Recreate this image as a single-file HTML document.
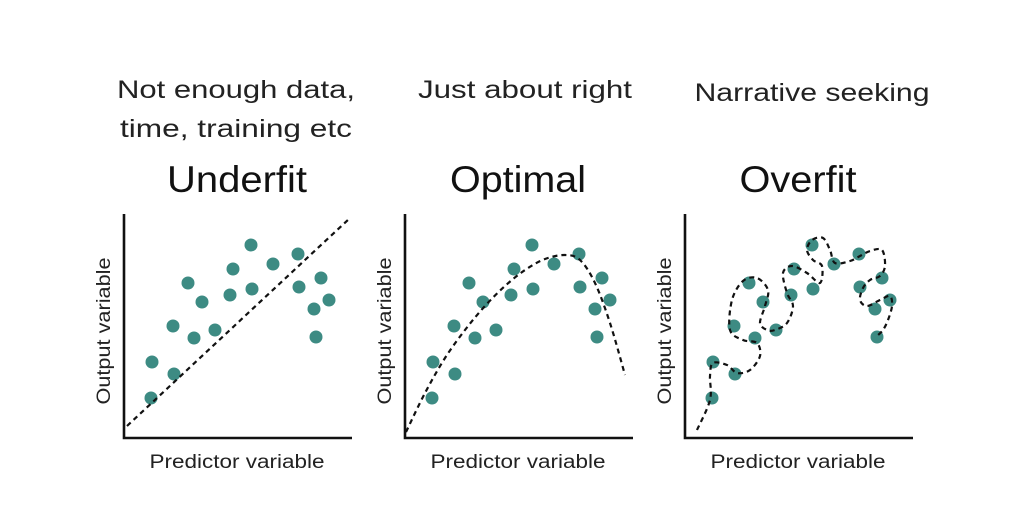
<!DOCTYPE html>
<html><head><meta charset="utf-8"><style>
body{margin:0;background:#fff;}
svg{display:block;font-family:"Liberation Sans",sans-serif;}
</style></head><body>
<svg id="c" width="1018" height="532" viewBox="0 0 1018 532"></svg>
<script>
const panelNames=["underfit","optimal","overfit"];
const panelTitles=["Underfit","Optimal","Overfit"];
const panelSub1=["Not enough data,","Just about right","Narrative seeking"];
const panelSub2=["time, training etc","",""];
const pointX=[27,28,50,49,64,78,70,91,109,106,127,128,149,174,175,197,205,190,192];
const pointY=[40,76,64,112,155,136,100,108,169,143,193,149,174,184,151,160,138,129,101];
const underX=[3,226];
const underY=[12,220];
const optX=[1,20,40,60,80,100,120,140,160,175,190,205,220];
const optY=[6,45,80,108,132,152,168,179,183,178,155,115,63];
const overX=[12,25,25,28,42,52,65,75,72,58,45,47,58,72,83,80,75,82,90,102,108,102,98,107,122,135,137,128,122,127,138,145,150,165,175,185,197,200,195,185,178,175,182,195,205,207,203,198,192];
const overY=[8,38,62,75,73,65,68,82,95,98,108,138,157,160,148,132,115,108,108,115,132,145,165,172,165,155,172,178,188,198,200,188,175,177,182,187,188,172,162,158,150,138,132,138,142,132,118,108,102];
const panelOffset=[124,405,685];
const baseY=438;
const svg=document.getElementById('c');
const NS="http://www.w3.org/2000/svg";
function mk(t,a,p){const e=document.createElementNS(NS,t);for(const k in a)e.setAttribute(k,a[k]);(p||svg).appendChild(e);return e;}
function sx(p,v){return panelOffset[p]+v;}
function sy(v){return baseY-v;}
function smooth(pts){let d="M"+pts[0][0]+","+pts[0][1];for(let i=0;i<pts.length-1;i++){const p0=pts[i-1]||pts[i],p1=pts[i],p2=pts[i+1],p3=pts[i+2]||p2;
const c1=[p1[0]+(p2[0]-p0[0])/6,p1[1]+(p2[1]-p0[1])/6],c2=[p2[0]-(p3[0]-p1[0])/6,p2[1]-(p3[1]-p1[1])/6];
d+=" C"+c1[0]+","+c1[1]+" "+c2[0]+","+c2[1]+" "+p2[0]+","+p2[1];}return d;}
const subCx=[236,525,812];
const sub1Len=[238,214,235];
const titleCx=[237,518,798];
const titleLen=[140,136,117];
for(let p=0;p<3;p++){
  const g=mk('g',{});
  
  
  const cx=titleCx[p];
  let t=mk('text',{x:subCx[p],y:p==2?101:98,'text-anchor':'middle','font-size':25,fill:'#222',textLength:sub1Len[p],lengthAdjust:'spacingAndGlyphs'},g);t.textContent=panelSub1[p];
  
  
  if(panelSub2[p]){t=mk('text',{x:subCx[p],y:137,'text-anchor':'middle','font-size':25,fill:'#222',textLength:232,lengthAdjust:'spacingAndGlyphs'},g);t.textContent=panelSub2[p];
  
  }
  t=mk('text',{x:cx,y:192,'text-anchor':'middle','font-size':37,fill:'#111',textLength:titleLen[p],lengthAdjust:'spacingAndGlyphs'},g);t.textContent=panelTitles[p];
  
  
  const ax=mk('path',{d:`M${sx(p,0)},214 L${sx(p,0)},${baseY} L${sx(p,228)},${baseY}`,fill:'none',stroke:'#111','stroke-width':2.6},g);
  
  
  t=mk('text',{x:panelOffset[p]+113,y:468,'text-anchor':'middle','font-size':19,fill:'#222',textLength:175,lengthAdjust:'spacingAndGlyphs'},g);t.textContent="Predictor variable";
  
  
  t=mk('text',{x:0,y:0,'text-anchor':'middle','font-size':19,fill:'#222',textLength:147,lengthAdjust:'spacingAndGlyphs',transform:`translate(${panelOffset[p]-14},331) rotate(-90)`},g);t.textContent="Output variable";
  
  
  for(let i=0;i<pointX.length;i++){
    const c=mk('circle',{cx:sx(p,pointX[i]),cy:sy(pointY[i]),r:6.5,fill:'#3d8b83'},g);
    
    
  }
  let fx,fy;
  if(p==0){fx=underX;fy=underY;}else if(p==1){fx=optX;fy=optY;}else{fx=overX;fy=overY;}
  const pts=fx.map((v,i)=>[sx(p,v),sy(fy[i])]);
  const d=p==0?`M${pts[0][0]},${pts[0][1]} L${pts[1][0]},${pts[1][1]}`:smooth(pts);
  const ln=mk('path',{d:d,fill:'none',stroke:'#111','stroke-width':2.2,'stroke-dasharray':'5,4'},g);
  
  
}
</script>
</body></html>
